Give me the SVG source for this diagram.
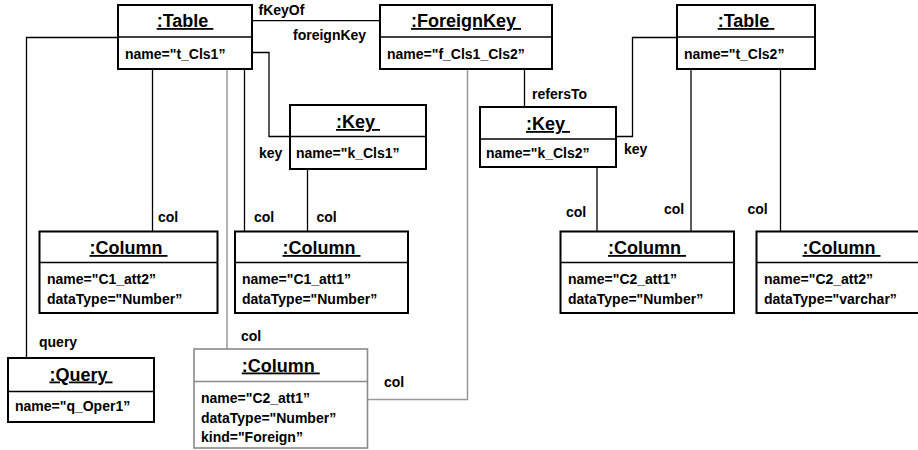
<svg xmlns="http://www.w3.org/2000/svg" width="918" height="450" viewBox="0 0 918 450">
<style>
  text { font-family: "Liberation Sans", Arial, sans-serif; font-weight: bold; fill: #000; }
  .title { font-size: 18px; text-anchor: middle; text-decoration: underline; white-space: pre; }
  .attr { font-size: 14px; }
  .lbl { font-size: 14px; }
  .box { fill: #fff; stroke: #000; stroke-width: 2; }
  .div { stroke: #000; stroke-width: 1.5; }
  .gbox { fill: #fff; stroke: #8a8a8a; stroke-width: 1.6; }
  .gdiv { stroke: #8a8a8a; stroke-width: 1.3; }
  .conn { fill: none; stroke: #000; stroke-width: 1.3; }
  .gconn { fill: none; stroke: #999; stroke-width: 1.5; }
</style>
<rect width="918" height="450" fill="#fff"/>
<g id="connectors">
  <path class="conn" d="M252 20.7 H380"/>
  <path class="conn" d="M252 52.5 H269 V136.5 H290"/>
  <path class="conn" d="M118 37.5 H26.5 V358"/>
  <path class="conn" d="M152.5 69 V231.5"/>
  <path class="gconn" d="M227 69 V349"/>
  <path class="conn" d="M244.5 69 V231.5"/>
  <path class="conn" d="M307.5 169 V231.5"/>
  <path class="gconn" d="M467.5 69 V399.5 H367.5"/>
  <path class="conn" d="M524.5 69 V107"/>
  <path class="conn" d="M677 37.5 H632.5 V136.5 H616"/>
  <path class="conn" d="M597 167 V231.5"/>
  <path class="conn" d="M691 69 V231.5"/>
  <path class="conn" d="M780.5 69 V231.5"/>
  <text class="lbl" x="258.5" y="15">fKeyOf</text>
  <text class="lbl" x="293" y="39.5">foreignKey</text>
  <text class="lbl" x="259" y="158">key</text>
  <text class="lbl" x="158" y="222">col</text>
  <text class="lbl" x="254" y="222">col</text>
  <text class="lbl" x="316.5" y="222">col</text>
  <text class="lbl" x="39" y="347">query</text>
  <text class="lbl" x="241" y="340.5">col</text>
  <text class="lbl" x="384" y="387">col</text>
  <text class="lbl" x="532" y="99">refersTo</text>
  <text class="lbl" x="624" y="153.5">key</text>
  <text class="lbl" x="566" y="216.5">col</text>
  <text class="lbl" x="664" y="214">col</text>
  <text class="lbl" x="747.5" y="214">col</text>
</g>
<g id="table1">
  <rect class="box" x="118" y="5" width="134" height="64"/>
  <line class="div" x1="118" y1="37" x2="252" y2="37"/>
  <text class="title" x="185" y="27" xml:space="preserve">:Table </text>
  <text class="attr" x="125" y="59">name="t_Cls1”</text>
</g>
<g id="foreignkey">
  <rect class="box" x="380" y="5" width="172" height="64"/>
  <line class="div" x1="380" y1="37" x2="552" y2="37"/>
  <text class="title" x="466" y="27" xml:space="preserve">:ForeignKey </text>
  <text class="attr" x="387" y="59">name="f_Cls1_Cls2”</text>
</g>
<g id="table2">
  <rect class="box" x="677" y="5" width="138" height="64"/>
  <line class="div" x1="677" y1="37" x2="815" y2="37"/>
  <text class="title" x="746" y="27" xml:space="preserve">:Table </text>
  <text class="attr" x="684" y="59">name="t_Cls2”</text>
</g>
<g id="key1">
  <rect class="box" x="290" y="105" width="136" height="64"/>
  <line class="div" x1="290" y1="136.5" x2="426" y2="136.5"/>
  <text class="title" x="358" y="128" xml:space="preserve">:Key </text>
  <text class="attr" x="296" y="158">name="k_Cls1”</text>
</g>
<g id="key2">
  <rect class="box" x="480" y="107" width="136" height="60"/>
  <line class="div" x1="480" y1="139" x2="616" y2="139"/>
  <text class="title" x="548" y="130" xml:space="preserve">:Key </text>
  <text class="attr" x="486" y="158">name="k_Cls2”</text>
</g>
<g id="column1">
  <rect class="box" x="39.5" y="231.5" width="178" height="81.5"/>
  <line class="div" x1="39.5" y1="262.5" x2="217.5" y2="262.5"/>
  <text class="title" x="128.5" y="254" xml:space="preserve">:Column </text>
  <text class="attr" x="47" y="284">name="C1_att2”</text>
  <text class="attr" x="47" y="304">dataType="Number”</text>
</g>
<g id="column2">
  <rect class="box" x="235" y="231.5" width="173" height="81.5"/>
  <line class="div" x1="235" y1="262.5" x2="408" y2="262.5"/>
  <text class="title" x="321.5" y="254" xml:space="preserve">:Column </text>
  <text class="attr" x="242" y="284">name="C1_att1”</text>
  <text class="attr" x="242" y="304">dataType="Number”</text>
</g>
<g id="column4">
  <rect class="box" x="560.5" y="231.5" width="173.5" height="81.5"/>
  <line class="div" x1="560.5" y1="262.5" x2="734" y2="262.5"/>
  <text class="title" x="647" y="254" xml:space="preserve">:Column </text>
  <text class="attr" x="568" y="284">name="C2_att1”</text>
  <text class="attr" x="568" y="304">dataType="Number”</text>
</g>
<g id="column5">
  <rect class="box" x="756.5" y="231.5" width="170.5" height="81.5"/>
  <line class="div" x1="756.5" y1="262.5" x2="927" y2="262.5"/>
  <text class="title" x="841.5" y="254" xml:space="preserve">:Column </text>
  <text class="attr" x="764" y="284">name="C2_att2”</text>
  <text class="attr" x="764" y="304">dataType="varchar”</text>
</g>
<g id="query">
  <rect class="box" x="8" y="358" width="146" height="64"/>
  <line class="div" x1="8" y1="391.5" x2="154" y2="391.5"/>
  <text class="title" x="81" y="380.5" xml:space="preserve">:Query </text>
  <text class="attr" x="15" y="411">name="q_Oper1”</text>
</g>
<g id="column3">
  <rect class="gbox" x="194" y="349" width="173.5" height="99"/>
  <line class="gdiv" x1="194" y1="381.5" x2="367.5" y2="381.5"/>
  <text class="title" x="280.75" y="371.5" xml:space="preserve">:Column </text>
  <text class="attr" x="201" y="403">name="C2_att1”</text>
  <text class="attr" x="201" y="423">dataType="Number”</text>
  <text class="attr" x="201" y="442">kind="Foreign”</text>
</g>
</svg>
